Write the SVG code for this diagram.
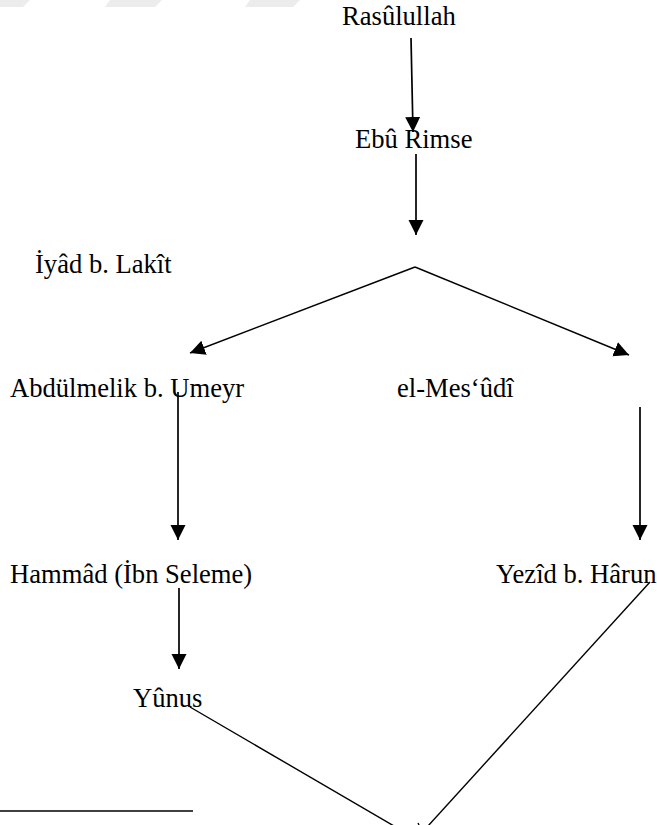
<svg xmlns="http://www.w3.org/2000/svg" width="657" height="825" viewBox="0 0 657 825">
  <defs>
    <style>
      .lbl { font-family: "Liberation Serif", "Times New Roman", serif; font-size: 26.6px; fill: #000; }
      .edge { stroke: #000; stroke-width: 1.7; fill: none; }
      .thin { stroke: #000; stroke-width: 1.4; fill: none; }
      .wm { fill: #ececec; }
    </style>
    <marker id="arrow" markerUnits="userSpaceOnUse" markerWidth="16" markerHeight="16" viewBox="0 0 16 16" refX="15" refY="8" orient="auto">
      <path d="M0,0.5 L15,8 L0,15.5 Z" fill="#000"/>
    </marker>
  </defs>
  <rect width="657" height="825" fill="#fff"/>

  <g id="watermark">
    <polygon class="wm" points="0,0 30,0 23,7 0,7"/>
    <polygon class="wm" points="110,0 162,0 155,7 105,7"/>
    <polygon class="wm" points="250,0 300,0 293,7 245,7"/>
  </g>

  <g id="connectors">
    <line class="edge" x1="411" y1="38" x2="413" y2="132" marker-end="url(#arrow)"/>
    <line class="edge" x1="416" y1="154" x2="416" y2="235" marker-end="url(#arrow)"/>
    <line class="thin" x1="415" y1="267" x2="190" y2="353" marker-end="url(#arrow)"/>
    <line class="thin" x1="415" y1="267" x2="629" y2="355" marker-end="url(#arrow)"/>
    <line class="edge" x1="178" y1="392" x2="178" y2="540" marker-end="url(#arrow)"/>
    <line class="edge" x1="640" y1="407" x2="640" y2="540" marker-end="url(#arrow)"/>
    <line class="edge" x1="179" y1="588" x2="179" y2="669" marker-end="url(#arrow)"/>
    <line class="thin" x1="190" y1="707" x2="394" y2="826"/>
    <line class="thin" x1="650" y1="582" x2="428" y2="826"/>
    <line class="thin" x1="418" y1="823" x2="419" y2="825"/>
  </g>

  <g id="n-rasulullah"><text class="lbl" x="342" y="25">Rasûlullah</text></g>
  <g id="n-ebu-rimse"><text class="lbl" x="355" y="148">Ebû Rimse</text></g>
  <g id="n-iyad"><text class="lbl" x="35" y="273">İyâd b. Lakît</text></g>
  <g id="n-abdulmelik"><text class="lbl" x="10" y="397">Abdülmelik b. Umeyr</text></g>
  <g id="n-mesudi"><text class="lbl" x="397" y="397">el-Mes‘ûdî</text></g>
  <g id="n-hammad"><text class="lbl" x="10" y="583">Hammâd (İbn Seleme)</text></g>
  <g id="n-yezid"><text class="lbl" x="496" y="583">Yezîd b. Hârun</text></g>
  <g id="n-yunus"><text class="lbl" x="133" y="707">Yûnus</text></g>

  <g id="footnote-rule">
    <line x1="0" y1="811" x2="193" y2="811" stroke="#000" stroke-width="1.7"/>
  </g>
</svg>
